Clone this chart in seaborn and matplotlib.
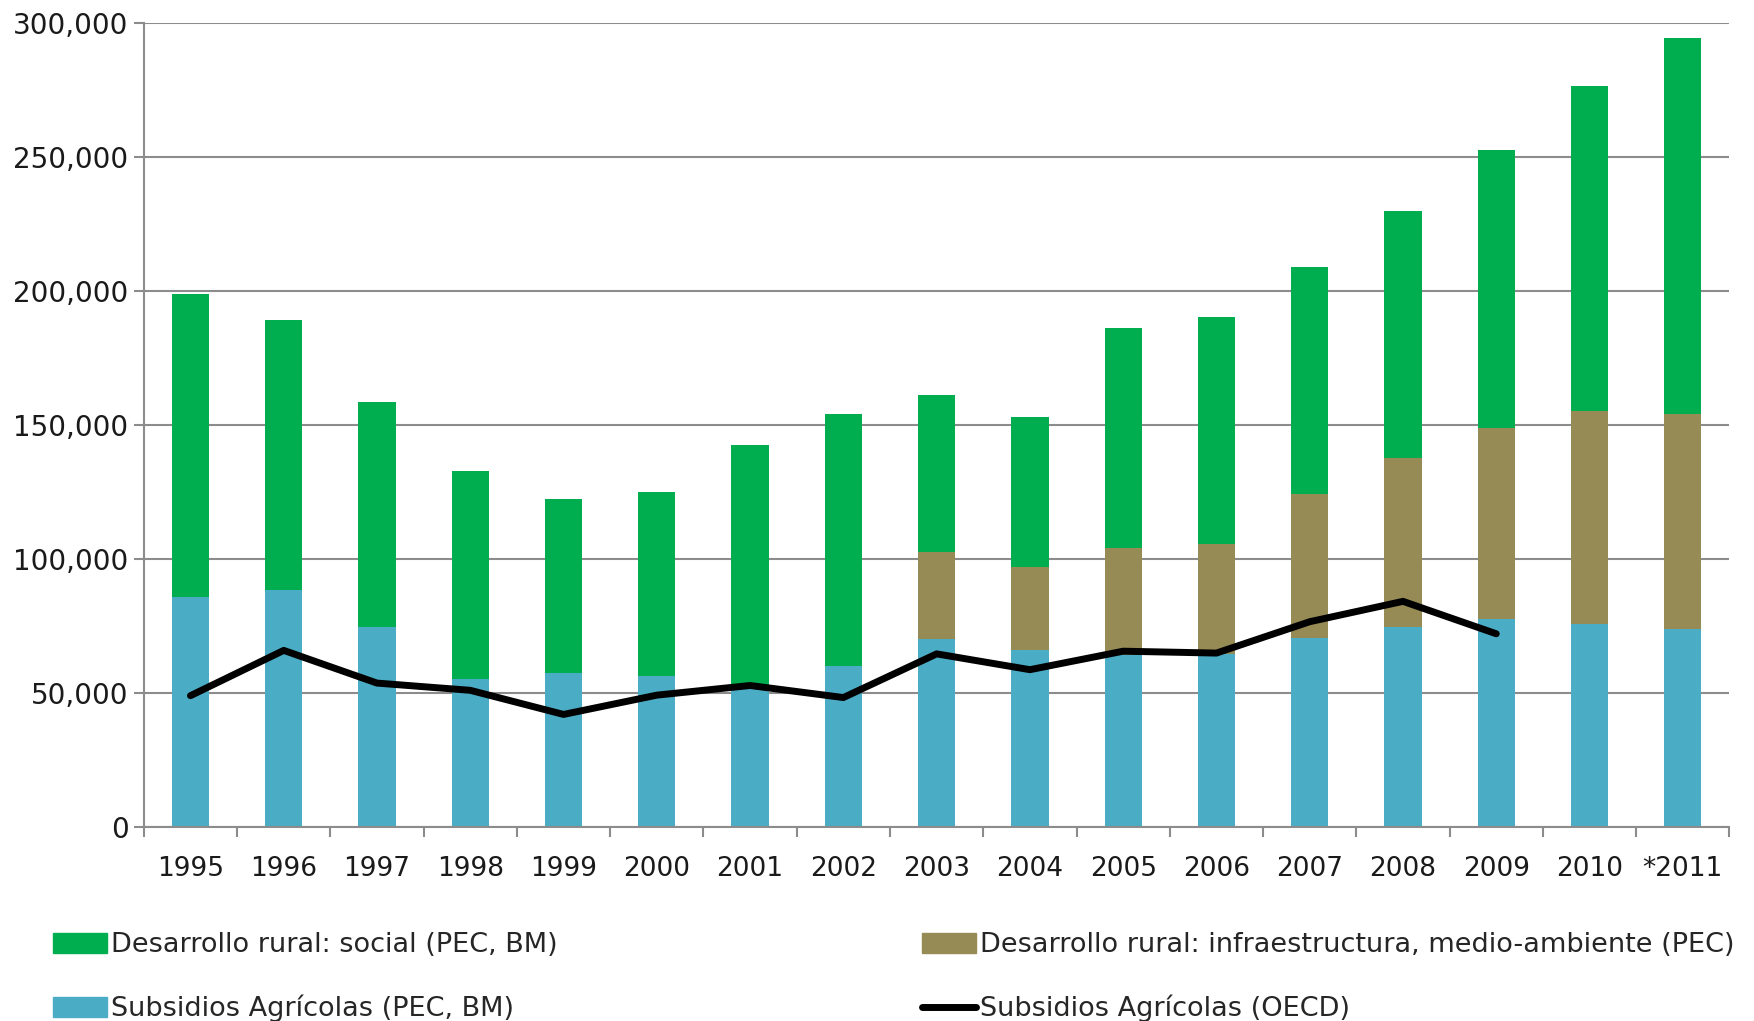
import numpy as np
import pandas as pd
import seaborn as sns
import matplotlib.pyplot as plt
from matplotlib.patches import Patch
from matplotlib.lines import Line2D
from matplotlib.ticker import FuncFormatter, MultipleLocator

years = ['1995', '1996', '1997', '1998', '1999', '2000', '2001', '2002', '2003',
         '2004', '2005', '2006', '2007', '2008', '2009', '2010', '*2011']

# Subsidios Agricolas (PEC, BM)
subsidios_pec = [85800, 88300, 74600, 55300, 57500, 56200, 51500, 60000, 70200,
                 65900, 64300, 64400, 70600, 74600, 77500, 75800, 73800]
# Desarrollo rural: infraestructura, medio-ambiente (PEC)
infraestructura = [0, 0, 0, 0, 0, 0, 0, 0, 32500,
                   31100, 39800, 41300, 53700, 62900, 71300, 79400, 80300]
# Desarrollo rural: social (PEC, BM)
social = [113000, 101000, 83800, 77700, 65000, 68800, 91000, 94200, 58500,
          56000, 82200, 84700, 84800, 92500, 103800, 121400, 140300]
# Subsidios Agricolas (OECD)
oecd = [49000, 65900, 53700, 51000, 42000, 49200, 52800, 48300, 64600,
        58700, 65600, 64900, 76600, 84200, 72100, np.nan, np.nan]

c_social = '#00AE4F'
c_infra = '#968B55'
c_subs = '#4BACC6'
grid_c = '#8C8C8C'

sns.set_style('white')
plt.rcParams['font.family'] = ['DejaVu Sans']

df = pd.DataFrame({'year': years, 'subs': subsidios_pec,
                   'infra': infraestructura, 'social': social, 'oecd': oecd})
df['mid'] = df['subs'] + df['infra']
df['total'] = df['mid'] + df['social']

fig = plt.figure(figsize=(17.54, 10.21), dpi=100)
ax = fig.add_axes([0.082, 0.19, 0.904, 0.7875])

# stacked bars drawn as overlapping cumulative heights
sns.barplot(data=df, x='year', y='total', color=c_social, width=0.4,
            saturation=1, linewidth=0, ax=ax)
sns.barplot(data=df, x='year', y='mid', color=c_infra, width=0.4,
            saturation=1, linewidth=0, ax=ax)
sns.barplot(data=df, x='year', y='subs', color=c_subs, width=0.4,
            saturation=1, linewidth=0, ax=ax)
sns.lineplot(x=np.arange(len(years)), y=df['oecd'], color='black',
             linewidth=5, ax=ax, zorder=5)

ax.set_ylim(0, 300000)
ax.set_xlim(-0.5, len(years) - 0.5)
ax.yaxis.set_major_locator(MultipleLocator(50000))
ax.yaxis.set_major_formatter(FuncFormatter(lambda v, p: f'{v:,.0f}'))
ax.grid(axis='y', color=grid_c, linewidth=1.5, zorder=0)
ax.set_axisbelow(True)
ax.set_xlabel('')
ax.set_ylabel('')

for s in ['top', 'right']:
    ax.spines[s].set_visible(False)
for s in ['left', 'bottom']:
    ax.spines[s].set_color(grid_c)
    ax.spines[s].set_linewidth(1.5)

ax.tick_params(axis='y', length=7, width=1.5, color=grid_c, pad=4,
               labelsize=20, labelcolor='#1a1a1a', left=True)
ax.set_xticks(np.arange(len(years)))
ax.set_xticklabels(years)
ax.tick_params(axis='x', which='major', length=0, pad=21, labelsize=19,
               labelcolor='#1a1a1a')
ax.set_xticks(np.arange(len(years) + 1) - 0.5, minor=True)
ax.tick_params(axis='x', which='minor', length=7, width=1.5, color=grid_c,
               bottom=True)

h1 = [Patch(color=c_social), Patch(color=c_subs)]
l1 = ['Desarrollo rural: social (PEC, BM)', 'Subsidios Agrícolas (PEC, BM)']
h2 = [Patch(color=c_infra), Line2D([0], [0], color='black', linewidth=5)]
l2 = ['Desarrollo rural: infraestructura, medio-ambiente (PEC)',
      'Subsidios Agrícolas (OECD)']
leg_kw = dict(frameon=False, fontsize=19.5, handlelength=2.0, handleheight=0.75,
              handletextpad=0.15, labelspacing=1.35, borderaxespad=0,
              loc='lower left')
fig.legend(h1, l1, bbox_to_anchor=(0.024, -0.012), **leg_kw)
fig.legend(h2, l2, bbox_to_anchor=(0.5195, -0.012), **leg_kw)

fig.savefig('out.png', dpi=100)
